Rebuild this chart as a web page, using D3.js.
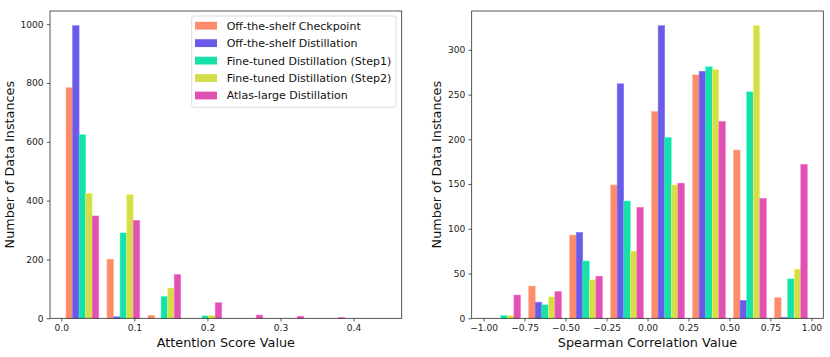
<!DOCTYPE html>
<html>
<head>
<meta charset="utf-8">
<script src="https://cdn.jsdelivr.net/npm/d3@7"></script>
<style>
  html, body { margin: 0; padding: 0; background: #fff; }
  svg { display: block; font-family: "DejaVu Sans", sans-serif; }
</style>
</head>
<body>
<svg id="chart" width="830" height="357"></svg>
<script>
// ---------------- DATA ----------------
const seriesNames = [
  "Off-the-shelf Checkpoint",
  "Off-the-shelf Distillation",
  "Fine-tuned Distillation (Step1)",
  "Fine-tuned Distillation (Step2)",
  "Atlas-large Distillation"
];
const seriesColors = ["#fd8c6d", "#6a5ae8", "#18e0a9", "#d4de4a", "#e052b1"];

// Left histogram: attention score (8 bins)
const attnBinStart = 0.0008;
const attnBinWidth = 0.0561;
const attnCheckpoint   = [784, 201, 10, 0, 0, 0, 0, 0];
const attnDistill      = [995, 5, 0, 0, 0, 0, 0, 0];
const attnStep1        = [624, 290, 74, 8, 0, 0, 0, 0];
const attnStep2        = [425, 421, 103, 10, 0, 0, 0, 0];
const attnAtlas        = [348, 333, 149, 53, 11, 7, 3, 0];
const attnXTicks = [0.0, 0.1, 0.2, 0.3, 0.4];
const attnYTicks = [0, 200, 400, 600, 800, 1000];

// Right histogram: Spearman correlation (8 bins)
const spBinStart = -1.0;
const spBinWidth = 0.25;
const spCheckpoint = [0, 36, 93, 149, 231, 272, 188, 23];
const spDistill    = [0, 18, 96, 262, 327, 276, 20, 1];
const spStep1      = [3, 15, 64, 131, 202, 281, 253, 44];
const spStep2      = [3, 24, 43, 75, 149, 278, 327, 55];
const spAtlas      = [26, 30, 47, 124, 151, 220, 134, 172];
const spXTicks = [-1.0, -0.75, -0.5, -0.25, 0.0, 0.25, 0.5, 0.75, 1.0];
const spYTicks = [0, 50, 100, 150, 200, 250, 300];

// ---------------- DRAW ----------------
const svg = d3.select("#chart");
const tickFont = 9.1, labelFont = 12.8, legendFont = 11;

function drawHist(opts) {
  const { left, right, top, bottom, binStart, binWidth, series, xTicks, yTicks, xFmt, xLabel, yLabelX } = opts;
  const nBins = series[0].length;
  const nSer = series.length;
  const dr = 0.8;
  const barW = dr * binWidth / nSer;
  // extent of bars like matplotlib, plus 5% margins
  const ext0 = binStart + binWidth * (1 - dr) / 2;
  const ext1 = binStart + nBins * binWidth - binWidth * (1 - dr) / 2;
  const m = 0.05 * (ext1 - ext0);
  const x = d3.scaleLinear().domain([ext0 - m, ext1 + m]).range([left, right]);
  const ymax = d3.max(series.flat()) * 1.05;
  const y = d3.scaleLinear().domain([0, ymax]).range([bottom, top]);

  const g = svg.append("g");
  series.forEach((vals, si) => {
    g.append("g").selectAll("rect").data(vals).join("rect")
      .attr("x", (d, i) => x(binStart + i * binWidth + binWidth * (1 - dr) / 2 + si * barW))
      .attr("width", x(barW) - x(0))
      .attr("y", d => y(d))
      .attr("height", d => y(0) - y(d))
      .attr("fill", seriesColors[si])
      .attr("stroke", d3.color(seriesColors[si]).brighter(0.6))
      .attr("stroke-width", 0.6)
      .attr("stroke-opacity", d => d > 0 ? 0.8 : 0);
  });

  const xAxis = d3.axisBottom(x).tickValues(xTicks).tickFormat(xFmt).tickSize(3.2).tickPadding(3.2);
  const yAxis = d3.axisLeft(y).tickValues(yTicks).tickFormat(d3.format("d")).tickSize(3.2).tickPadding(3.2);
  const gx = svg.append("g").attr("transform", `translate(0,${bottom})`).call(xAxis);
  const gy = svg.append("g").attr("transform", `translate(${left},0)`).call(yAxis);
  [gx, gy].forEach(a => {
    a.select(".domain").remove();
    a.selectAll("line").attr("stroke", "#222").attr("stroke-width", 0.75);
    a.selectAll("text").attr("font-size", tickFont).attr("fill", "#222").attr("font-family", "DejaVu Sans");
  });
  // frame
  svg.append("rect").attr("x", left).attr("y", top).attr("width", right - left).attr("height", bottom - top)
    .attr("fill", "none").attr("stroke", "#222").attr("stroke-width", 0.75);

  svg.append("text").attr("x", (left + right) / 2).attr("y", 347)
    .attr("text-anchor", "middle").attr("font-size", labelFont).attr("fill", "#111").text(xLabel);
  svg.append("text").attr("transform", `translate(${yLabelX},${(top + bottom) / 2}) rotate(-90)`)
    .attr("text-anchor", "middle").attr("font-size", labelFont).attr("fill", "#111").text("Number of Data Instances");
}

const minus = s => s.replace("-", "\u2212");

drawHist({
  left: 50, right: 401.7, top: 11, bottom: 318.3,
  binStart: attnBinStart, binWidth: attnBinWidth,
  series: [attnCheckpoint, attnDistill, attnStep1, attnStep2, attnAtlas],
  xTicks: attnXTicks, yTicks: attnYTicks, xFmt: d3.format(".1f"),
  xLabel: "Attention Score Value", yLabelX: 13.5
});
drawHist({
  left: 471.7, right: 823.3, top: 11, bottom: 318.3,
  binStart: spBinStart, binWidth: spBinWidth,
  series: [spCheckpoint, spDistill, spStep1, spStep2, spAtlas],
  xTicks: spXTicks, yTicks: spYTicks, xFmt: d => minus(d3.format(".2f")(d)),
  xLabel: "Spearman Correlation Value", yLabelX: 440.5
});

// legend (left panel)
const lg = svg.append("g").attr("transform", "translate(191.7,16)");
lg.append("rect").attr("width", 204.3).attr("height", 91.3).attr("rx", 2.5)
  .attr("fill", "#fff").attr("fill-opacity", 0.8).attr("stroke", "#d0d0d0").attr("stroke-width", 0.75);
seriesNames.forEach((name, i) => {
  const cy = 9.7 + i * 17.45;
  lg.append("rect").attr("x", 3.3).attr("y", cy - 3.9).attr("width", 22).attr("height", 7.8)
    .attr("fill", seriesColors[i]);
  lg.append("text").attr("x", 35).attr("y", cy + 3.9).attr("font-size", legendFont).attr("fill", "#111").text(name);
});
</script>
</body>
</html>
